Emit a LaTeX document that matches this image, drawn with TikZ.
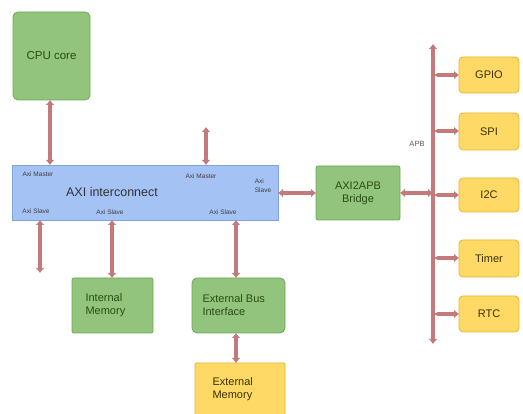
\documentclass[tikz,border=0pt]{standalone}
\usepackage{fontspec}
\setmainfont{Liberation Sans}
\usetikzlibrary{arrows.meta}
\definecolor{gfill}{HTML}{93C47D}
\definecolor{gline}{HTML}{6AA84F}
\definecolor{gtext}{HTML}{274E13}
\definecolor{yfill}{HTML}{FFD966}
\definecolor{yline}{HTML}{E6B52E}
\definecolor{bfill}{HTML}{A4C2F4}
\definecolor{bline}{HTML}{7FA3DB}
\definecolor{arr}{HTML}{C47A7A}
\definecolor{ytext}{HTML}{3A3000}
\begin{document}
\begin{tikzpicture}[x=1pt,y=-1pt,
  gbox/.style={draw=gline,fill=gfill,line width=0.8pt,rounded corners=5pt,text=gtext,font=\fontsize{11}{12}\selectfont},
  ybox/.style={draw=yline,fill=yfill,line width=0.8pt,rounded corners=4pt,text=ytext,font=\fontsize{11}{12}\selectfont},
  conn/.style={draw=arr,line width=4pt,{Latex[length=5pt,width=9pt]}-{Latex[length=5pt,width=9pt]}},
  small/.style={font=\fontsize{6.5}{7}\selectfont,text=black!75,inner sep=0pt}]
\useasboundingbox (0,0) rectangle (523,414);
% boxes
\path[gbox] (13,12) rectangle (90,100);
\node[text=gtext,font=\fontsize{11.5}{12}\selectfont] (cpu) at (51.5,56) {CPU core};
\coordinate (cpuB) at (50,100);
\path[draw=bline,fill=bfill,line width=0.8pt] (12,165) rectangle (278,220);
\node[font=\fontsize{12.5}{13}\selectfont,text=black!80] (axi) at (112,192) {AXI interconnect};
\node[small] (am1) at (38,174) {Axi Master};
\node[small] (as1) at (36,211) {Axi Slave};
\node[small] (as2) at (110,212) {Axi Slave};
\node[small] (am2) at (201,176) {Axi Master};
\node[small] (as3) at (223,212) {Axi Slave};
\node[small,align=left] (as4) at (263,186) {Axi\\[2pt]Slave};
\path[gbox,rounded corners=2pt] (316,166) rectangle (400,220);
\node[text=gtext,font=\fontsize{11}{13}\selectfont,align=center] (br) at (358,193) {AXI2APB\\Bridge};
\path[gbox,rounded corners=2pt] (72,278) rectangle (153,333);
\node[text=gtext,font=\fontsize{11}{13}\selectfont,align=left,anchor=west] (im) at (82,305) {Internal\\Memory};
\path[gbox] (192,278) rectangle (285,333);
\node[text=gtext,font=\fontsize{11}{13}\selectfont,align=left,anchor=west] (eb) at (199,305) {External Bus\\Interface};
\path[ybox,rounded corners=1pt] (195,363) rectangle (285,416);
\node[text=ytext,font=\fontsize{11}{13}\selectfont,align=left,anchor=west] (em) at (209,389) {External\\Memory};
% peripherals
\foreach \n/\t/\a/\b in {gpio/GPIO/57/93,spi/SPI/113/150,iic/I2C/178/212,tmr/Timer/240/277,rtc/RTC/296/332}{
  \path[ybox] (459,\a) rectangle (519,\b);
  \node[text=ytext,font=\fontsize{11}{12}\selectfont] (\n) at (489,{(\a+\b)/2}) {\t};
}
% connectors
\coordinate (axiT1) at (50,165);
\coordinate (axiT2) at (206,165);
\coordinate (up2) at (206,127);
\coordinate (axiB1) at (40,220);
\coordinate (dn1) at (40,273);
\coordinate (axiB2) at (112,220);
\coordinate (imT) at (112,278);
\coordinate (axiB3) at (236,220);
\coordinate (ebT) at (236,278);
\coordinate (ebB) at (236,333);
\coordinate (emT) at (236,363);
\coordinate (axiR) at (278,193);
\coordinate (brL) at (316,193);
\coordinate (brR) at (400,193);
\coordinate (busT) at (433,44);
\coordinate (busB) at (433,344);
\draw[conn] (cpuB) -- (axiT1);
\draw[conn] (axiT2) -- (up2);
\draw[conn] (axiB1) -- (dn1);
\draw[conn] (axiB2) -- (imT);
\draw[conn] (axiB3) -- (ebT);
\draw[conn] (ebB) -- (emT);
\draw[conn] (axiR) -- (brL);
\draw[conn] (brR) -- (433,193);
\draw[conn] (busT) -- (busB);
\foreach \n/\y in {gpio/75,spi/131,iic/195,tmr/258,rtc/314}{
  \draw[conn,{Latex[length=4pt,width=3pt]}-{Latex[length=5pt,width=9pt]}] (433,\y) -- (459,\y);
}
\node[small,font=\fontsize{7.5}{8}\selectfont,text=black!65] (apb) at (417,144) {APB};
\end{tikzpicture}
\end{document}
